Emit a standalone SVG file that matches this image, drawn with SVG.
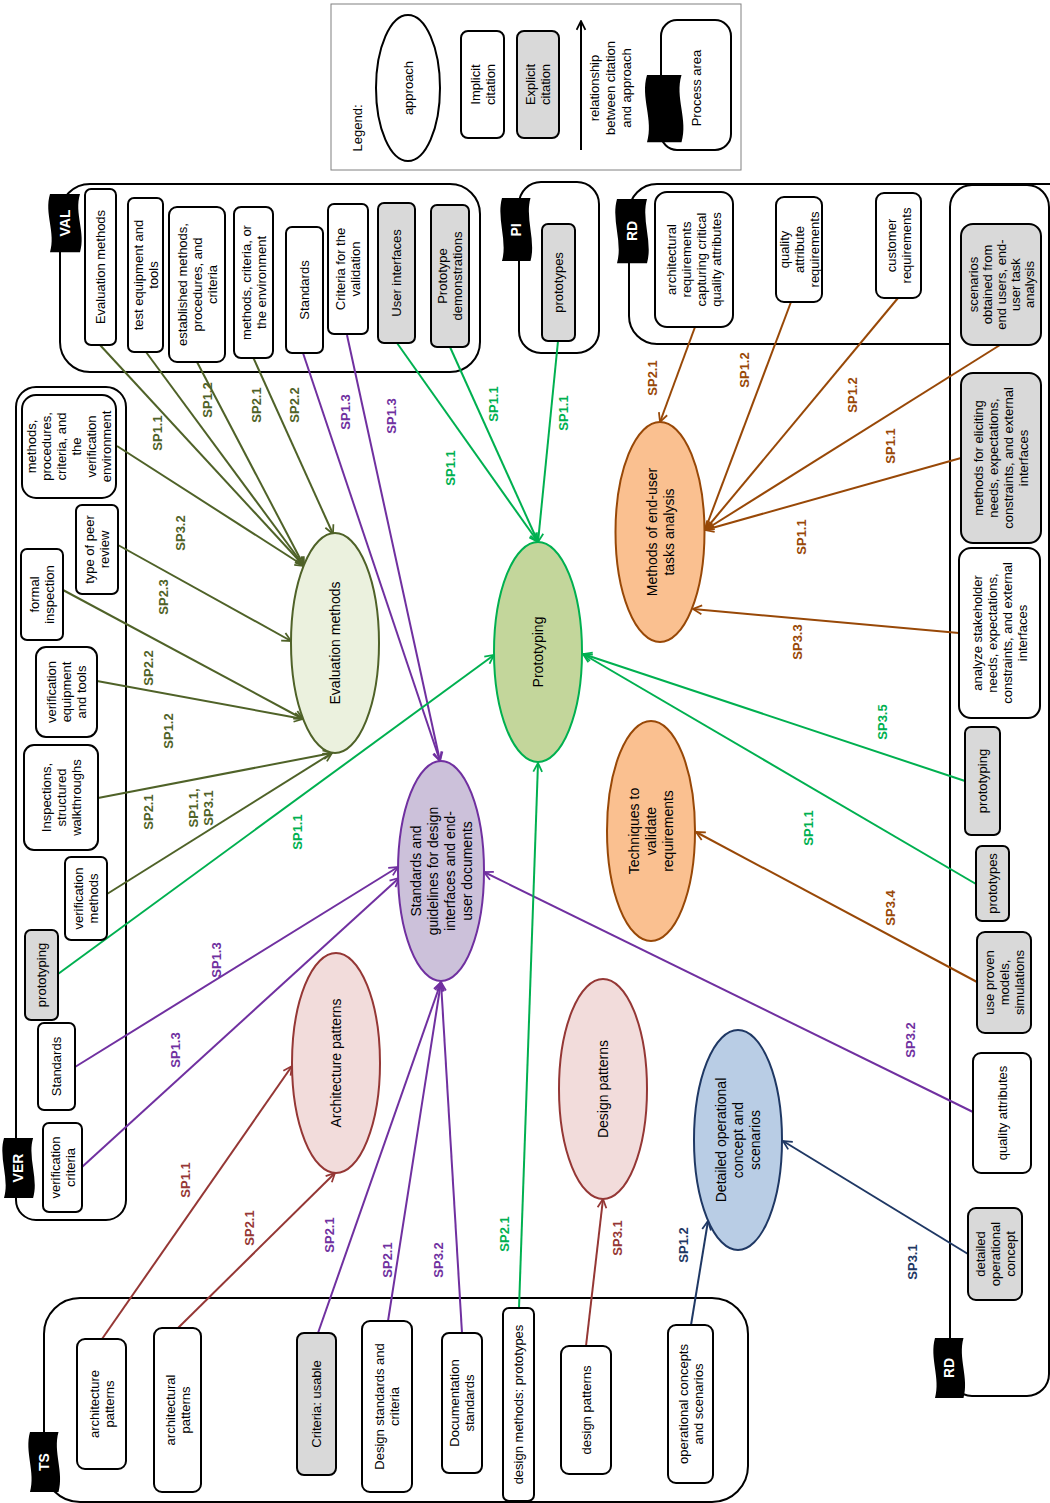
<svg xmlns="http://www.w3.org/2000/svg" xmlns:xlink="http://www.w3.org/1999/xlink" width="1050" height="1503" viewBox="0 0 1050 1503">
<style>
text{font-family:"Liberation Sans",Arial,sans-serif;text-anchor:middle;}
.t{font-size:13px;fill:#000;}
.te{font-size:14px;fill:#000;}
.lb{font-size:13px;font-weight:bold;}
.fl{font-size:14px;font-weight:bold;fill:#fff;}
.box{fill:#fff;stroke:#000;stroke-width:2;}
.gbox{fill:#d9d9d9;stroke:#000;stroke-width:2;}
.cont{fill:#fff;stroke:#000;stroke-width:2;}
.c{fill:none;stroke-width:2;}
.ol{stroke:#4f6228;} .olt{fill:#4f6228;}
.pu{stroke:#7030a0;} .put{fill:#7030a0;}
.gr{stroke:#00b050;} .grt{fill:#00b050;}
.br{stroke:#984807;} .brt{fill:#984807;}
.rd{stroke:#953735;} .rdt{fill:#953735;}
.nv{stroke:#1f3864;} .nvt{fill:#1f3864;}
</style>
<defs>
<path id="flag" d="M0,0 H30 C24,20 36,40 30,60 H0 C6,40 -6,20 0,0 Z" fill="#000"/>
<marker id="mO" viewBox="0 0 10 10" refX="9" refY="5" markerWidth="11" markerHeight="11" markerUnits="userSpaceOnUse" orient="auto"><path d="M1,1 L9,5 L1,9" fill="none" stroke="#4f6228" stroke-width="1.6"/></marker>
<marker id="mP" viewBox="0 0 10 10" refX="9" refY="5" markerWidth="11" markerHeight="11" markerUnits="userSpaceOnUse" orient="auto"><path d="M1,1 L9,5 L1,9" fill="none" stroke="#7030a0" stroke-width="1.6"/></marker>
<marker id="mG" viewBox="0 0 10 10" refX="9" refY="5" markerWidth="11" markerHeight="11" markerUnits="userSpaceOnUse" orient="auto"><path d="M1,1 L9,5 L1,9" fill="none" stroke="#00b050" stroke-width="1.6"/></marker>
<marker id="mB" viewBox="0 0 10 10" refX="9" refY="5" markerWidth="11" markerHeight="11" markerUnits="userSpaceOnUse" orient="auto"><path d="M1,1 L9,5 L1,9" fill="none" stroke="#984807" stroke-width="1.6"/></marker>
<marker id="mR" viewBox="0 0 10 10" refX="9" refY="5" markerWidth="11" markerHeight="11" markerUnits="userSpaceOnUse" orient="auto"><path d="M1,1 L9,5 L1,9" fill="none" stroke="#953735" stroke-width="1.6"/></marker>
<marker id="mN" viewBox="0 0 10 10" refX="9" refY="5" markerWidth="11" markerHeight="11" markerUnits="userSpaceOnUse" orient="auto"><path d="M1,1 L9,5 L1,9" fill="none" stroke="#1f3864" stroke-width="1.6"/></marker>
<marker id="mK" viewBox="0 0 10 10" refX="9" refY="5" markerWidth="11" markerHeight="11" markerUnits="userSpaceOnUse" orient="auto"><path d="M1,1 L9,5 L1,9" fill="none" stroke="#000" stroke-width="1.6"/></marker>
</defs>
<rect width="1050" height="1503" fill="#fff"/>

<!-- Legend -->
<g id="legend">
<rect x="331" y="4" width="410" height="166" fill="#fff" stroke="#808080" stroke-width="1"/>
<text class="t" transform="translate(357 128) rotate(-90)" y="4.5">Legend:</text>
<ellipse cx="408" cy="88" rx="32" ry="73" fill="#fff" stroke="#000" stroke-width="2"/>
<text class="t" transform="translate(408 88) rotate(-90)" y="4.5">approach</text>
<rect class="box" x="461" y="31" width="43" height="107" rx="7"/>
<text class="t" transform="translate(482.5 84.5) rotate(-90)"><tspan x="0" y="-3">Implicit</tspan><tspan x="0" y="12">citation</tspan></text>
<rect class="gbox" x="517" y="31" width="42" height="107" rx="7"/>
<text class="t" transform="translate(538 84.5) rotate(-90)"><tspan x="0" y="-3">Explicit</tspan><tspan x="0" y="12">citation</tspan></text>
<path d="M581,150 L581,21" fill="none" stroke="#000" stroke-width="2" marker-end="url(#mK)"/>
<text class="t" transform="translate(610 88) rotate(-90)"><tspan x="0" y="-11.5">relationship</tspan><tspan x="0" y="4.5">between citation</tspan><tspan x="0" y="20.5">and  approach</tspan></text>
<rect class="box" x="661" y="20" width="70" height="130" rx="16"/>
<use xlink:href="#flag" transform="translate(647 75) scale(1.15 1.12)"/>
<text class="t" transform="translate(696 88) rotate(-90)" y="4.5">Process area</text>
</g>

<!-- Containers -->
<g id="containers">
<g id="VAL"><rect class="cont" x="60" y="184" width="420" height="188" rx="30"/><use xlink:href="#flag" transform="translate(50 194) scale(1 0.97)"/><text class="fl" transform="translate(65 223) rotate(-90)" y="5">VAL</text></g>
<g id="PI"><rect class="cont" x="519" y="182" width="80" height="171" rx="22"/><use xlink:href="#flag" transform="translate(502 198) scale(0.95 1.05)"/><text class="fl" transform="translate(516 230) rotate(-90)" y="5">PI</text></g>
<g id="RD-top"><rect class="cont" x="629" y="184" width="460" height="160" rx="28"/><use xlink:href="#flag" transform="translate(617 199) scale(1 1.07)"/><text class="fl" transform="translate(632 231) rotate(-90)" y="5">RD</text></g>
<g id="RD-right"><rect class="cont" x="950" y="185" width="99" height="1211" rx="22"/><use xlink:href="#flag" transform="translate(935 1338) scale(0.95 1)"/><text class="fl" transform="translate(949 1368) rotate(-90)" y="5">RD</text></g>
<g id="VER"><rect class="cont" x="16" y="387" width="110" height="833" rx="20"/><use xlink:href="#flag" transform="translate(4 1138) scale(0.97 1)"/><text class="fl" transform="translate(18 1168) rotate(-90)" y="5">VER</text></g>
<g id="TS"><rect class="cont" x="44" y="1298" width="704" height="204" rx="36"/><use xlink:href="#flag" transform="translate(30 1432) scale(0.95 1)"/><text class="fl" transform="translate(44 1462) rotate(-90)" y="5">TS</text></g>
</g>

<!-- Connectors -->
<g id="connectors">
<path class="c ol" marker-end="url(#mO)" d="M100,345 L304,566"/>
<path class="c ol" marker-end="url(#mO)" d="M146,352 L304,566"/>
<path class="c ol" marker-end="url(#mO)" d="M197,362 L304,566"/>
<path class="c ol" marker-end="url(#mO)" d="M253,357 L333,534"/>
<path class="c ol" marker-end="url(#mO)" d="M117,446 L304,566"/>
<path class="c ol" marker-end="url(#mO)" d="M118,545 L291,641"/>
<path class="c ol" marker-end="url(#mO)" d="M63,590 L303,719"/>
<path class="c ol" marker-end="url(#mO)" d="M97,681 L303,719"/>
<path class="c ol" marker-end="url(#mO)" d="M98,798 L332,753"/>
<path class="c ol" marker-end="url(#mO)" d="M107,894 L332,753"/>

<path class="c pu" marker-end="url(#mP)" d="M303,353 L440,761"/>
<path class="c pu" marker-end="url(#mP)" d="M347,335 L440,761"/>
<path class="c pu" marker-end="url(#mP)" d="M75,1067 L398,867"/>
<path class="c pu" marker-end="url(#mP)" d="M82,1167 L399,878"/>
<path class="c pu" marker-end="url(#mP)" d="M318,1333 L441,982"/>
<path class="c pu" marker-end="url(#mP)" d="M388,1321 L441,982"/>
<path class="c pu" marker-end="url(#mP)" d="M462,1333 L441,982"/>
<path class="c pu" marker-end="url(#mP)" d="M973,1112 L484,872"/>

<path class="c gr" marker-end="url(#mG)" d="M397,343 L538,542"/>
<path class="c gr" marker-end="url(#mG)" d="M450,347 L538,542"/>
<path class="c gr" marker-end="url(#mG)" d="M558,341 L538,542"/>
<path class="c gr" marker-end="url(#mG)" d="M58,974 L494,655"/>
<path class="c gr" marker-end="url(#mG)" d="M519,1308 L538,763"/>
<path class="c gr" marker-end="url(#mG)" d="M965,781 L583,654"/>
<path class="c gr" marker-end="url(#mG)" d="M976,884 L583,654"/>

<path class="c br" marker-end="url(#mB)" d="M695,327 L660,422"/>
<path class="c br" marker-end="url(#mB)" d="M791,302 L705,530"/>
<path class="c br" marker-end="url(#mB)" d="M898,298 L705,530"/>
<path class="c br" marker-end="url(#mB)" d="M1000,345 L705,530"/>
<path class="c br" marker-end="url(#mB)" d="M961,458 L705,530"/>
<path class="c br" marker-end="url(#mB)" d="M959,633 L693,609"/>
<path class="c br" marker-end="url(#mB)" d="M977,982 L696,832"/>

<path class="c rd" marker-end="url(#mR)" d="M102,1339 L292,1066"/>
<path class="c rd" marker-end="url(#mR)" d="M178,1328 L335,1173"/>
<path class="c rd" marker-end="url(#mR)" d="M586,1346 L603,1199"/>

<path class="c nv" marker-end="url(#mN)" d="M691,1325 L708,1221"/>
<path class="c nv" marker-end="url(#mN)" d="M968,1254 L783,1141"/>

<g id="labels">
<text class="lb olt" transform="translate(157 433) rotate(-90)" y="5">SP1.1</text>
<text class="lb olt" transform="translate(207 400) rotate(-90)" y="5">SP1.2</text>
<text class="lb olt" transform="translate(256 405) rotate(-90)" y="5">SP2.1</text>
<text class="lb olt" transform="translate(294 405) rotate(-90)" y="5">SP2.2</text>
<text class="lb olt" transform="translate(180 533) rotate(-90)" y="5">SP3.2</text>
<text class="lb olt" transform="translate(163 597) rotate(-90)" y="5">SP2.3</text>
<text class="lb olt" transform="translate(148 668) rotate(-90)" y="5">SP2.2</text>
<text class="lb olt" transform="translate(168 731) rotate(-90)" y="5">SP1.2</text>
<text class="lb olt" transform="translate(148 812) rotate(-90)" y="5">SP2.1</text>
<text class="lb olt" transform="translate(201 808) rotate(-90)"><tspan x="0" y="-3">SP1.1,</tspan><tspan x="0" y="12">SP3.1</tspan></text>

<text class="lb put" transform="translate(345 412) rotate(-90)" y="5">SP1.3</text>
<text class="lb put" transform="translate(391 416) rotate(-90)" y="5">SP1.3</text>
<text class="lb put" transform="translate(216 960) rotate(-90)" y="5">SP1.3</text>
<text class="lb put" transform="translate(175 1050) rotate(-90)" y="5">SP1.3</text>
<text class="lb put" transform="translate(329 1235) rotate(-90)" y="5">SP2.1</text>
<text class="lb put" transform="translate(387 1260) rotate(-90)" y="5">SP2.1</text>
<text class="lb put" transform="translate(438 1260) rotate(-90)" y="5">SP3.2</text>
<text class="lb put" transform="translate(910 1040) rotate(-90)" y="5">SP3.2</text>

<text class="lb grt" transform="translate(450 468) rotate(-90)" y="5">SP1.1</text>
<text class="lb grt" transform="translate(493 404) rotate(-90)" y="5">SP1.1</text>
<text class="lb grt" transform="translate(563 413) rotate(-90)" y="5">SP1.1</text>
<text class="lb grt" transform="translate(297 832) rotate(-90)" y="5">SP1.1</text>
<text class="lb grt" transform="translate(504 1234) rotate(-90)" y="5">SP2.1</text>
<text class="lb grt" transform="translate(882 722) rotate(-90)" y="5">SP3.5</text>
<text class="lb grt" transform="translate(808 828) rotate(-90)" y="5">SP1.1</text>

<text class="lb brt" transform="translate(652 378) rotate(-90)" y="5">SP2.1</text>
<text class="lb brt" transform="translate(744 370) rotate(-90)" y="5">SP1.2</text>
<text class="lb brt" transform="translate(852 395) rotate(-90)" y="5">SP1.2</text>
<text class="lb brt" transform="translate(890 446) rotate(-90)" y="5">SP1.1</text>
<text class="lb brt" transform="translate(801 537) rotate(-90)" y="5">SP1.1</text>
<text class="lb brt" transform="translate(797 642) rotate(-90)" y="5">SP3.3</text>
<text class="lb brt" transform="translate(890 908) rotate(-90)" y="5">SP3.4</text>

<text class="lb rdt" transform="translate(185 1180) rotate(-90)" y="5">SP1.1</text>
<text class="lb rdt" transform="translate(249 1228) rotate(-90)" y="5">SP2.1</text>
<text class="lb rdt" transform="translate(617 1238) rotate(-90)" y="5">SP3.1</text>

<text class="lb nvt" transform="translate(683 1245) rotate(-90)" y="5">SP1.2</text>
<text class="lb nvt" transform="translate(912 1262) rotate(-90)" y="5">SP3.1</text>
</g>
</g>

<!-- VAL boxes -->
<g id="val-evaluation-methods"><rect class="box" x="85" y="189" width="31" height="156" rx="6"/><text class="t" transform="translate(100.5 267) rotate(-90)" y="4.5">Evaluation methods</text></g>
<g id="val-test-equipment"><rect class="box" x="128" y="198" width="35" height="154" rx="6"/><text class="t" transform="translate(145.5 275) rotate(-90)"><tspan x="0" y="-3">test equipment and</tspan><tspan x="0" y="12">tools</tspan></text></g>
<g id="val-established"><rect class="box" x="169" y="207" width="56" height="155" rx="8"/><text class="t" transform="translate(197 284.5) rotate(-90)"><tspan x="0" y="-10.5">established methods,</tspan><tspan x="0" y="4.5">procedures, and</tspan><tspan x="0" y="19.5">criteria</tspan></text></g>
<g id="val-methods-env"><rect class="box" x="234" y="207" width="39" height="151" rx="7"/><text class="t" transform="translate(253.5 282.5) rotate(-90)"><tspan x="0" y="-3">methods, criteria, or</tspan><tspan x="0" y="12">the environment</tspan></text></g>
<g id="val-standards"><rect class="box" x="286" y="227" width="37" height="126" rx="6"/><text class="t" transform="translate(304.5 290) rotate(-90)" y="4.5">Standards</text></g>
<g id="val-criteria"><rect class="box" x="328" y="204" width="40" height="130" rx="6"/><text class="t" transform="translate(348 269) rotate(-90)"><tspan x="0" y="-3">Criteria for the</tspan><tspan x="0" y="12">validation</tspan></text></g>
<g id="val-user-interfaces"><rect class="gbox" x="378" y="203" width="37" height="140" rx="6"/><text class="t" transform="translate(396.5 273) rotate(-90)" y="4.5">User interfaces</text></g>
<g id="val-prototype-demos"><rect class="gbox" x="431" y="205" width="38" height="142" rx="6"/><text class="t" transform="translate(450 276) rotate(-90)"><tspan x="0" y="-3">Prototype</tspan><tspan x="0" y="12">demonstrations</tspan></text></g>

<!-- PI -->
<g id="pi-prototypes"><rect class="gbox" x="542" y="224" width="33" height="117" rx="6"/><text class="t" transform="translate(558.5 282.5) rotate(-90)" y="4.5">prototypes</text></g>

<!-- RD top -->
<g id="rd-arch-req"><rect class="box" x="655" y="192" width="78" height="135" rx="12"/><text class="t" transform="translate(694 259.5) rotate(-90)"><tspan x="0" y="-18">architectural</tspan><tspan x="0" y="-3">requirements</tspan><tspan x="0" y="12">capturing critical</tspan><tspan x="0" y="27">quality attributes</tspan></text></g>
<g id="rd-quality-attr-req"><rect class="box" x="776" y="197" width="46" height="105" rx="8"/><text class="t" transform="translate(799 249.5) rotate(-90)"><tspan x="0" y="-10.5">quality</tspan><tspan x="0" y="4.5">attribute</tspan><tspan x="0" y="19.5">requirements</tspan></text></g>
<g id="rd-customer-req"><rect class="box" x="876" y="193" width="45" height="105" rx="8"/><text class="t" transform="translate(898.5 245.5) rotate(-90)"><tspan x="0" y="-3">customer</tspan><tspan x="0" y="12">requirements</tspan></text></g>

<!-- RD right -->
<g id="rd-scenarios"><rect class="gbox" x="961" y="224" width="80" height="121" rx="12"/><text class="t" transform="translate(1001 284.5) rotate(-90)"><tspan x="0" y="-23.5">scenarios</tspan><tspan x="0" y="-9.5">obtained from</tspan><tspan x="0" y="4.5">end users, end-</tspan><tspan x="0" y="18.5">user task</tspan><tspan x="0" y="32.5">analysis</tspan></text></g>
<g id="rd-methods-eliciting"><rect class="gbox" x="961" y="373" width="80" height="170" rx="12"/><text class="t" transform="translate(1001 458) rotate(-90)"><tspan x="0" y="-18">methods for eliciting</tspan><tspan x="0" y="-3">needs, expectations,</tspan><tspan x="0" y="12">constraints, and external</tspan><tspan x="0" y="27">interfaces</tspan></text></g>
<g id="rd-analyze"><rect class="box" x="959" y="548" width="81" height="170" rx="12"/><text class="t" transform="translate(999.5 633) rotate(-90)"><tspan x="0" y="-18">analyze stakeholder</tspan><tspan x="0" y="-3">needs, expectations,</tspan><tspan x="0" y="12">constraints, and external</tspan><tspan x="0" y="27">interfaces</tspan></text></g>
<g id="rd-prototyping"><rect class="gbox" x="965" y="727" width="35" height="108" rx="6"/><text class="t" transform="translate(982.5 781) rotate(-90)" y="4.5">prototyping</text></g>
<g id="rd-prototypes"><rect class="gbox" x="976" y="846" width="33" height="75" rx="6"/><text class="t" transform="translate(992.5 883.5) rotate(-90)" y="4.5">prototypes</text></g>
<g id="rd-use-proven"><rect class="gbox" x="977" y="932" width="54" height="101" rx="8"/><text class="t" transform="translate(1004 982.5) rotate(-90)"><tspan x="0" y="-10.5">use proven</tspan><tspan x="0" y="4.5">models,</tspan><tspan x="0" y="19.5">simulations</tspan></text></g>
<g id="rd-quality-attributes"><rect class="box" x="973" y="1053" width="58" height="120" rx="8"/><text class="t" transform="translate(1002 1113) rotate(-90)" y="4.5">quality attributes</text></g>
<g id="rd-detailed-op"><rect class="gbox" x="968" y="1208" width="54" height="92" rx="8"/><text class="t" transform="translate(995 1254) rotate(-90)"><tspan x="0" y="-10.5">detailed</tspan><tspan x="0" y="4.5">operational</tspan><tspan x="0" y="19.5">concept</tspan></text></g>

<!-- VER boxes -->
<g id="ver-methods-procedures"><rect class="box" x="22" y="395" width="94" height="103" rx="14"/><text class="t" transform="translate(69 446.5) rotate(-90)"><tspan x="0" y="-33">methods,</tspan><tspan x="0" y="-18">procedures,</tspan><tspan x="0" y="-3">criteria, and</tspan><tspan x="0" y="12">the</tspan><tspan x="0" y="27">verification</tspan><tspan x="0" y="42">environment</tspan></text></g>
<g id="ver-peer-review"><rect class="box" x="76" y="505" width="42" height="89" rx="6"/><text class="t" transform="translate(97 549.5) rotate(-90)"><tspan x="0" y="-3">type of peer</tspan><tspan x="0" y="12">review</tspan></text></g>
<g id="ver-formal-inspection"><rect class="box" x="21" y="549" width="42" height="91" rx="6"/><text class="t" transform="translate(42 594.5) rotate(-90)"><tspan x="0" y="-3">formal</tspan><tspan x="0" y="12">inspection</tspan></text></g>
<g id="ver-equipment"><rect class="box" x="36" y="647" width="61" height="90" rx="10"/><text class="t" transform="translate(66.5 692) rotate(-90)"><tspan x="0" y="-10.5">verification</tspan><tspan x="0" y="4.5">equipment</tspan><tspan x="0" y="19.5">and tools</tspan></text></g>
<g id="ver-inspections"><rect class="box" x="24" y="745" width="74" height="105" rx="10"/><text class="t" transform="translate(61 797.5) rotate(-90)"><tspan x="0" y="-10.5">Inspections,</tspan><tspan x="0" y="4.5">structured</tspan><tspan x="0" y="19.5">walkthroughs</tspan></text></g>
<g id="ver-methods"><rect class="box" x="65" y="857" width="42" height="83" rx="6"/><text class="t" transform="translate(86 898.5) rotate(-90)"><tspan x="0" y="-3">verification</tspan><tspan x="0" y="12">methods</tspan></text></g>
<g id="ver-prototyping"><rect class="gbox" x="25" y="930" width="33" height="90" rx="6"/><text class="t" transform="translate(41.5 975) rotate(-90)" y="4.5">prototyping</text></g>
<g id="ver-standards"><rect class="box" x="38" y="1023" width="37" height="87" rx="6"/><text class="t" transform="translate(56.5 1066.5) rotate(-90)" y="4.5">Standards</text></g>
<g id="ver-criteria"><rect class="box" x="43" y="1123" width="39" height="89" rx="6"/><text class="t" transform="translate(62.5 1167.5) rotate(-90)"><tspan x="0" y="-3">verification</tspan><tspan x="0" y="12">criteria</tspan></text></g>

<!-- TS boxes -->
<g id="ts-architecture-patterns"><rect class="box" x="77" y="1339" width="49" height="130" rx="8"/><text class="t" transform="translate(101.5 1404) rotate(-90)"><tspan x="0" y="-3">architecture</tspan><tspan x="0" y="12">patterns</tspan></text></g>
<g id="ts-architectural-patterns"><rect class="box" x="154" y="1328" width="47" height="164" rx="8"/><text class="t" transform="translate(177.5 1410) rotate(-90)"><tspan x="0" y="-3">architectural</tspan><tspan x="0" y="12">patterns</tspan></text></g>
<g id="ts-criteria-usable"><rect class="gbox" x="297" y="1333" width="39" height="142" rx="7"/><text class="t" transform="translate(316.5 1404) rotate(-90)" y="4.5">Criteria: usable</text></g>
<g id="ts-design-standards"><rect class="box" x="362" y="1321" width="50" height="171" rx="8"/><text class="t" transform="translate(387 1406.5) rotate(-90)"><tspan x="0" y="-3">Design standards and</tspan><tspan x="0" y="12">criteria</tspan></text></g>
<g id="ts-documentation"><rect class="box" x="442" y="1333" width="40" height="140" rx="7"/><text class="t" transform="translate(462 1403) rotate(-90)"><tspan x="0" y="-3">Documentation</tspan><tspan x="0" y="12">standards</tspan></text></g>
<g id="ts-design-methods"><rect class="box" x="503" y="1308" width="31" height="193" rx="6"/><text class="t" transform="translate(518.5 1404.5) rotate(-90)" y="4.5">design methods: prototypes</text></g>
<g id="ts-design-patterns"><rect class="box" x="561" y="1346" width="50" height="128" rx="8"/><text class="t" transform="translate(586 1410) rotate(-90)" y="4.5">design patterns</text></g>
<g id="ts-operational"><rect class="box" x="668" y="1325" width="45" height="158" rx="8"/><text class="t" transform="translate(690.5 1404) rotate(-90)"><tspan x="0" y="-3">operational concepts</tspan><tspan x="0" y="12">and scenarios</tspan></text></g>

<!-- Approaches (ellipses) -->
<g id="evaluation-methods"><ellipse cx="335" cy="643" rx="44" ry="110" fill="#ebf1de" stroke="#4f6228" stroke-width="2"/><text class="te" transform="translate(335 643) rotate(-90)" y="5">Evaluation methods</text></g>
<g id="standards-guidelines"><ellipse cx="441" cy="871" rx="43" ry="110" fill="#ccc1da" stroke="#7030a0" stroke-width="2"/><text class="te" transform="translate(441 871) rotate(-90)"><tspan x="0" y="-20.5">Standards and</tspan><tspan x="0" y="-3.5">guidelines  for design</tspan><tspan x="0" y="13.5">interfaces  and  end-</tspan><tspan x="0" y="30.5">user documents</tspan></text></g>
<g id="prototyping"><ellipse cx="538" cy="652" rx="44" ry="110" fill="#c3d69b" stroke="#00b050" stroke-width="2"/><text class="te" transform="translate(538 652) rotate(-90)" y="5">Prototyping</text></g>
<g id="methods-end-user"><ellipse cx="660" cy="532" rx="44.5" ry="110" fill="#fac090" stroke="#984807" stroke-width="2"/><text class="te" transform="translate(660 532) rotate(-90)"><tspan x="0" y="-3">Methods  of end-user</tspan><tspan x="0" y="14">tasks analysis</tspan></text></g>
<g id="techniques-validate"><ellipse cx="651" cy="831" rx="44" ry="110" fill="#fac090" stroke="#984807" stroke-width="2"/><text class="te" transform="translate(651 831) rotate(-90)"><tspan x="0" y="-12">Techniques to</tspan><tspan x="0" y="5">validate</tspan><tspan x="0" y="22">requirements</tspan></text></g>
<g id="architecture-patterns"><ellipse cx="336" cy="1063" rx="44" ry="110" fill="#f2dcdb" stroke="#953735" stroke-width="2"/><text class="te" transform="translate(336 1063) rotate(-90)" y="5">Architecture  patterns</text></g>
<g id="design-patterns"><ellipse cx="603" cy="1089" rx="44" ry="110" fill="#f2dcdb" stroke="#953735" stroke-width="2"/><text class="te" transform="translate(603 1089) rotate(-90)" y="5">Design patterns</text></g>
<g id="detailed-operational"><ellipse cx="738" cy="1140" rx="44" ry="110" fill="#b9cde5" stroke="#1f3864" stroke-width="2"/><text class="te" transform="translate(738 1140) rotate(-90)"><tspan x="0" y="-12">Detailed operational</tspan><tspan x="0" y="5">concept and</tspan><tspan x="0" y="22">scenarios</tspan></text></g>
</svg>
